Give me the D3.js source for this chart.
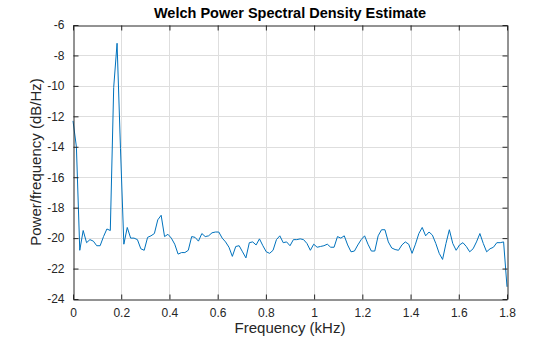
<!DOCTYPE html>
<html><head><meta charset="utf-8">
<script src="https://cdn.jsdelivr.net/npm/d3@7"></script>
<style>body{margin:0;background:#fff}svg{display:block}text{font-family:"Liberation Sans",Arial,sans-serif}</style>
</head><body><svg id="c" width="560" height="337"></svg>
<script>
const fs_kHz = 3.6;
const nPoints = 129;
const psd = [-12.3,-14.0,-20.8,-19.5,-20.3,-20.1,-20.2,-20.5,-20.5,-19.9,
-19.4,-19.5,-10.1,-7.2,-14.1,-20.4,-19.3,-20.0,-20.0,-20.1,
-20.7,-20.8,-19.95,-19.85,-19.7,-18.8,-18.5,-19.9,-19.75,-20.0,
-20.4,-21.05,-20.95,-20.95,-20.8,-19.9,-19.95,-20.2,-19.7,-19.9,
-19.85,-19.65,-19.6,-19.6,-20.0,-20.25,-20.6,-21.2,-20.55,-20.5,
-20.9,-21.3,-20.3,-20.25,-20.45,-20.05,-20.5,-20.9,-21.0,-20.8,
-20.1,-19.85,-20.3,-20.25,-20.5,-20.1,-20.1,-20.05,-20.1,-20.35,
-20.8,-20.4,-20.6,-20.55,-20.5,-20.4,-20.6,-20.6,-19.9,-20.0,
-19.85,-20.45,-20.9,-20.85,-20.45,-20.1,-19.85,-20.4,-20.85,-20.85,
-19.85,-19.45,-19.45,-20.25,-20.65,-20.75,-20.8,-20.45,-20.25,-20.4,
-21.0,-20.4,-19.7,-19.3,-19.85,-19.6,-19.8,-20.35,-21.0,-21.4,
-20.35,-19.45,-20.35,-20.8,-20.45,-20.3,-20.55,-20.9,-20.7,-20.25,
-19.7,-20.35,-20.9,-20.7,-20.6,-20.3,-20.3,-20.25,-23.2];
const freqs = psd.map((_, i) => i * (fs_kHz / 2) / (nPoints - 1));
const xTicks = [0,0.2,0.4,0.6,0.8,1,1.2,1.4,1.6,1.8];
const yTicks = [-24,-22,-20,-18,-16,-14,-12,-10,-8,-6];
const title = "Welch Power Spectral Density Estimate";
const xLabel = "Frequency (kHz)";
const yLabel = "Power/frequency (dB/Hz)";

const L = 73, R = 507, T = 25, B = 299;
const svg = d3.select("#c");
const x = d3.scaleLinear().domain([0, 1.8]).range([L, R]);
const y = d3.scaleLinear().domain([-24, -6]).range([B, T]);
const ink = "#262626";

// grid
const g = svg.append("g");
g.selectAll(".gx").data(xTicks.slice(1,-1)).join("line")
  .attr("x1", d => Math.round(x(d))+0.5).attr("x2", d => Math.round(x(d))+0.5)
  .attr("y1", T).attr("y2", B).attr("stroke", "#dedede").attr("stroke-width", 1);
g.selectAll(".gy").data(yTicks.slice(1,-1)).join("line")
  .attr("y1", d => Math.round(y(d))+0.5).attr("y2", d => Math.round(y(d))+0.5)
  .attr("x1", L).attr("x2", R).attr("stroke", "#dedede").attr("stroke-width", 1);

// line
const line = d3.line().x((d, i) => x(freqs[i])).y(d => y(d));
svg.append("path").datum(psd).attr("d", line)
  .attr("fill", "none").attr("stroke", "#0072BD").attr("stroke-width", 1)
  .attr("stroke-linejoin", "round");

// axes
const fmt = d => String(d);
const axB = svg.append("g").attr("transform", `translate(0,${B+0.5})`)
  .call(d3.axisBottom(x).tickValues(xTicks).tickFormat(fmt).tickSizeInner(-5).tickSizeOuter(0).tickPadding(9));
const axT = svg.append("g").attr("transform", `translate(0,${T+0.5})`)
  .call(d3.axisTop(x).tickValues(xTicks).tickFormat("").tickSizeInner(-5).tickSizeOuter(0));
const axL = svg.append("g").attr("transform", `translate(${L+0.5},0)`)
  .call(d3.axisLeft(y).tickValues(yTicks).tickFormat(fmt).tickSizeInner(-5).tickSizeOuter(0).tickPadding(9));
const axR = svg.append("g").attr("transform", `translate(${R+0.5},0)`)
  .call(d3.axisRight(y).tickValues(yTicks).tickFormat("").tickSizeInner(-5).tickSizeOuter(0));
[axB, axT, axL, axR].forEach(a => {
  a.selectAll("path,line").attr("stroke", ink);
  a.selectAll("text").attr("fill", ink).style("font-size", "12px");
});
axL.selectAll("text").text(d => d < 0 ? "-" + Math.abs(d) : d);

svg.append("text").attr("x", 290).attr("y", 18).attr("text-anchor", "middle")
  .style("font-size", "14.5px").style("font-weight", "bold").attr("fill", "#000").text(title);
svg.append("text").attr("x", 290).attr("y", 333).attr("text-anchor", "middle")
  .style("font-size", "15px").attr("fill", ink).text(xLabel);
svg.append("text").attr("transform", `translate(41,${(T+B)/2}) rotate(-90)`).attr("text-anchor", "middle")
  .style("font-size", "15px").attr("fill", ink).text(yLabel);
</script></body></html>
